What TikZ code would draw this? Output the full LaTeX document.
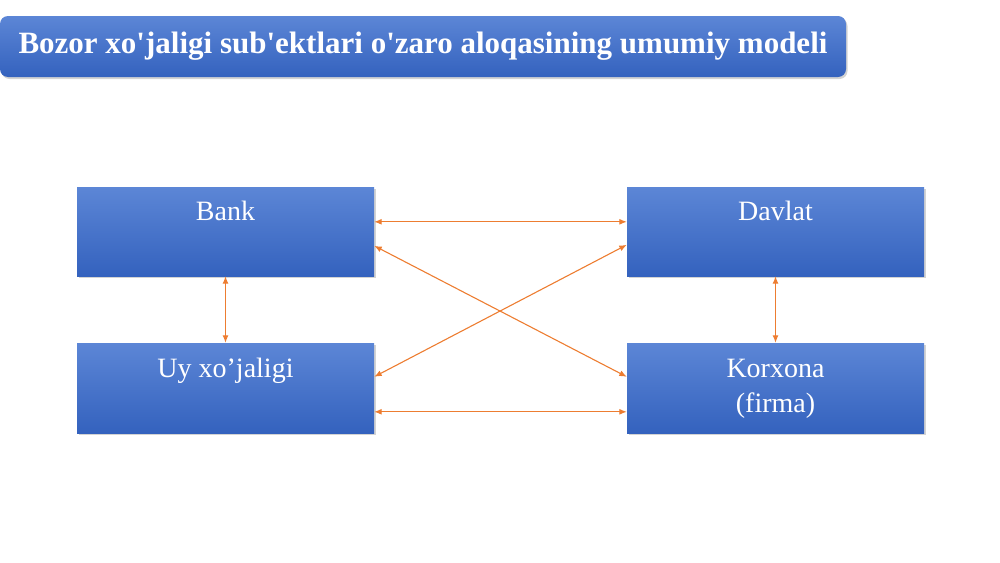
\documentclass[tikz,border=0pt]{standalone}
\usepackage{fontspec}
\setmainfont{Liberation Serif}
\usetikzlibrary{arrows.meta,shadows}
\definecolor{boxtop}{RGB}{92,134,214}
\definecolor{boxbottom}{RGB}{52,98,190}
\definecolor{linkorange}{RGB}{237,125,49}
\begin{document}
\begin{tikzpicture}[x=1pt, y=-1pt]

% Fix the page to the size of the slide
\useasboundingbox (0,0) rectangle (1000,562);

% Define styles for the title, the boxes and the links
\tikzstyle{heading} = [rounded corners=8pt, minimum width=846pt, minimum height=61pt, inner sep=0pt, top color=boxtop, bottom color=boxbottom, text=white, font=\fontsize{31}{36}\selectfont\bfseries, drop shadow={shadow xshift=1.5pt, shadow yshift=-2pt, opacity=0.35}]
\tikzstyle{entity} = [rectangle, minimum width=297pt, inner sep=0pt, align=center, text height=33pt, text depth=56pt, top color=boxtop, bottom color=boxbottom, text=white, font=\fontsize{28}{35}\selectfont, drop shadow={shadow xshift=1.5pt, shadow yshift=-2pt, opacity=0.35}]
\tikzstyle{link} = [draw=linkorange, line width=1.1pt, {Latex[length=7.5pt,width=6pt]}-{Latex[length=7.5pt,width=6pt]}]

% Title bar
\node[heading] (title) at (423,46.5) {Bozor xo\textquotesingle jaligi sub\textquotesingle ektlari o\textquotesingle zaro aloqasining umumiy modeli};

% The four subjects
\node[entity] (bank) at (225.5,231.5) {Bank};
\node[entity] (davlat) at (775.5,231.5) {Davlat};
\node[entity, text height=34pt, text depth=56pt] (uy) at (225.5,388) {Uy xo’jaligi};
\node[entity, text height=69pt, text depth=21pt] (korxona) at (775.5,388) {Korxona\\(firma)};

% Links between the subjects
\draw[link] ([yshift=-35pt]bank.north east) -- ([yshift=-35pt]davlat.north west);
\draw[link] ([yshift=-59pt]bank.north east) -- ([yshift=-34pt]korxona.north west);
\draw[link] ([yshift=-34pt]uy.north east) -- ([yshift=-58pt]davlat.north west);
\draw[link] ([yshift=-69pt]uy.north east) -- ([yshift=-69pt]korxona.north west);
\draw[link] (bank.south) -- (uy.north);
\draw[link] (davlat.south) -- (korxona.north);

\end{tikzpicture}
\end{document}
